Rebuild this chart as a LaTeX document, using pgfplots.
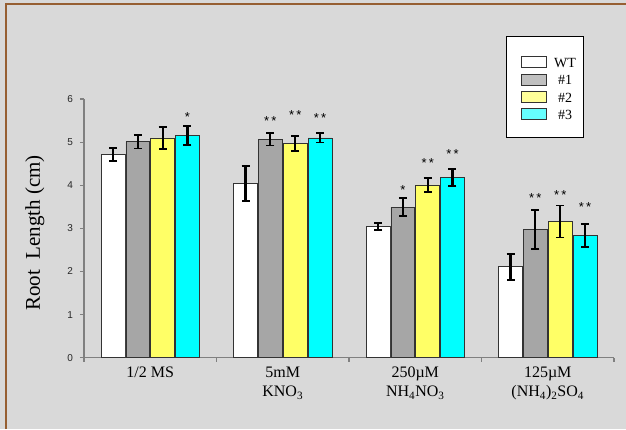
\documentclass[border=0pt]{standalone}
\usepackage{fontspec}
\setmainfont{Liberation Serif}
\newfontfamily\arial{Liberation Sans}
\usepackage{pgfplots}
\pgfplotsset{compat=1.18}
\definecolor{bg}{RGB}{217,217,217}
\definecolor{brd}{RGB}{150,95,50}
\definecolor{bgray}{RGB}{166,166,166}
\definecolor{byel}{RGB}{255,255,102}
\definecolor{bcyan}{RGB}{0,255,255}
\definecolor{lgray}{RGB}{192,192,192}
\definecolor{lyel}{RGB}{255,255,153}
\definecolor{lcyan}{RGB}{102,255,255}
\definecolor{axgray}{RGB}{128,128,128}
\pgfplotsset{
  legimg/.style={legend image code/.code={\path[draw=none,fill=none] (0pt,0pt) -- (40.5pt,0pt); \draw[##1] (7.5pt,-6.6pt) rectangle (32.5pt,4.2pt);}},
  errs/.style={error bars/.cd, y dir=both, y explicit,
    error bar style={line width=2.2pt, draw=black, solid},
    error mark options={rotate=90, mark size=4pt, line width=1.8pt, black}},
}
\tikzset{
  star/.style={font=\arial\fontsize{13}{13}\selectfont, anchor=center, yshift=-3pt, inner sep=0pt},
}
\begin{document}
\begin{tikzpicture}[x=1pt,y=1pt]
\useasboundingbox (0,0) rectangle (626,429);
\fill[bg] (0,0) rectangle (626,429);
\draw[brd, line width=1.5pt] (6,0) -- (6,425) -- (626,425);
\begin{axis}[
  at={(84pt,71.3pt)}, anchor=south west,
  scale only axis, width=530pt, height=258.7pt,
  xmin=-0.5, xmax=3.5, ymin=0, ymax=6,
  axis x line*=bottom, axis y line*=left,
  axis line style={-, axgray, line width=1.5pt},
  ybar=1pt, bar width=0.18,
  tick align=outside, major tick length=4pt,
  ytick={0,1,2,3,4,5,6},
  ytick style={axgray, line width=1.2pt},
  yticklabel style={font=\arial\fontsize{10}{12}\selectfont, text=black!85, xshift=-3.5pt},
  /pgf/number format/assume math mode=true,
  xtick={0,1,2,3},
  xtick style={draw=none},
  xticklabels={1/2 MS, 5mM\\KNO\textsubscript{3}, 250µM\\NH\textsubscript{4}NO\textsubscript{3}, 125µM\\(NH\textsubscript{4})\textsubscript{2}SO\textsubscript{4}},
  xticklabel style={align=center, font=\fontsize{16}{19.4}\selectfont, anchor=north, yshift=-1.5pt},
  extra x ticks={-0.5,0.5,1.5,2.5,3.5},
  extra x tick labels={},
  extra x tick style={xtick style={axgray, line width=1.2pt, draw=axgray}},
  ylabel={Root\ \ Length (cm)},
  ylabel style={font=\fontsize{21}{24}\selectfont, at={(axis description cs:-0.0925,0.482)}, anchor=center},
  legend style={at={(axis description cs:0.7957,1.2435)}, anchor=north west, draw=black, line width=0.8pt, fill=white,
    inner xsep=7.5pt, inner ysep=16pt, row sep=0pt, column sep=0pt,
    nodes={inner sep=0pt, text height=15.25pt, text depth=2.05pt, font=\fontsize{14}{16}\selectfont}},
  legend cell align=center,
  clip=false,
]
\addplot[fill=white, draw=black!80, line width=0.6pt, forget plot, bar shift=-0.281, errs]
  coordinates {(0,4.72) +- (0,0.15) (1,4.04) +- (0,0.40) (2,3.05) +- (0,0.08) (3,2.11) +- (0,0.30)};
\addplot[fill=bgray, draw=black!80, line width=0.6pt, forget plot, bar shift=-0.094, errs]
  coordinates {(0,5.01) +- (0,0.16) (1,5.07) +- (0,0.15) (2,3.49) +- (0,0.21) (3,2.98) +- (0,0.45)};
\addplot[fill=byel, draw=black!80, line width=0.6pt, forget plot, bar shift=0.094, errs]
  coordinates {(0,5.10) +- (0,0.26) (1,4.97) +- (0,0.17) (2,4.01) +- (0,0.16) (3,3.16) +- (0,0.37)};
\addplot[fill=bcyan, draw=black!80, line width=0.6pt, forget plot, bar shift=0.281, errs]
  coordinates {(0,5.15) +- (0,0.22) (1,5.10) +- (0,0.11) (2,4.18) +- (0,0.20) (3,2.84) +- (0,0.27)};
\addlegendimage{legimg, fill=white, draw=black!80, line width=0.8pt}
\addlegendentry{WT}
\addlegendimage{legimg, fill=lgray, draw=black!80, line width=0.8pt}
\addlegendentry{\#1}
\addlegendimage{legimg, fill=lyel, draw=black!80, line width=0.8pt}
\addlegendentry{\#2}
\addlegendimage{legimg, fill=lcyan, draw=black!80, line width=0.8pt}
\addlegendentry{\#3}
\node[star] at (axis cs:0.281,5.65) {*};
\node[star] at (axis cs:0.906,5.55) {*\,*};
\node[star] at (axis cs:1.094,5.69) {*\,*};
\node[star] at (axis cs:1.281,5.63) {*\,*};
\node[star] at (axis cs:1.906,3.97) {*};
\node[star] at (axis cs:2.094,4.59) {*\,*};
\node[star] at (axis cs:2.281,4.80) {*\,*};
\node[star] at (axis cs:2.906,3.78) {*\,*};
\node[star] at (axis cs:3.094,3.85) {*\,*};
\node[star] at (axis cs:3.281,3.56) {*\,*};
\end{axis}
\end{tikzpicture}
\end{document}
